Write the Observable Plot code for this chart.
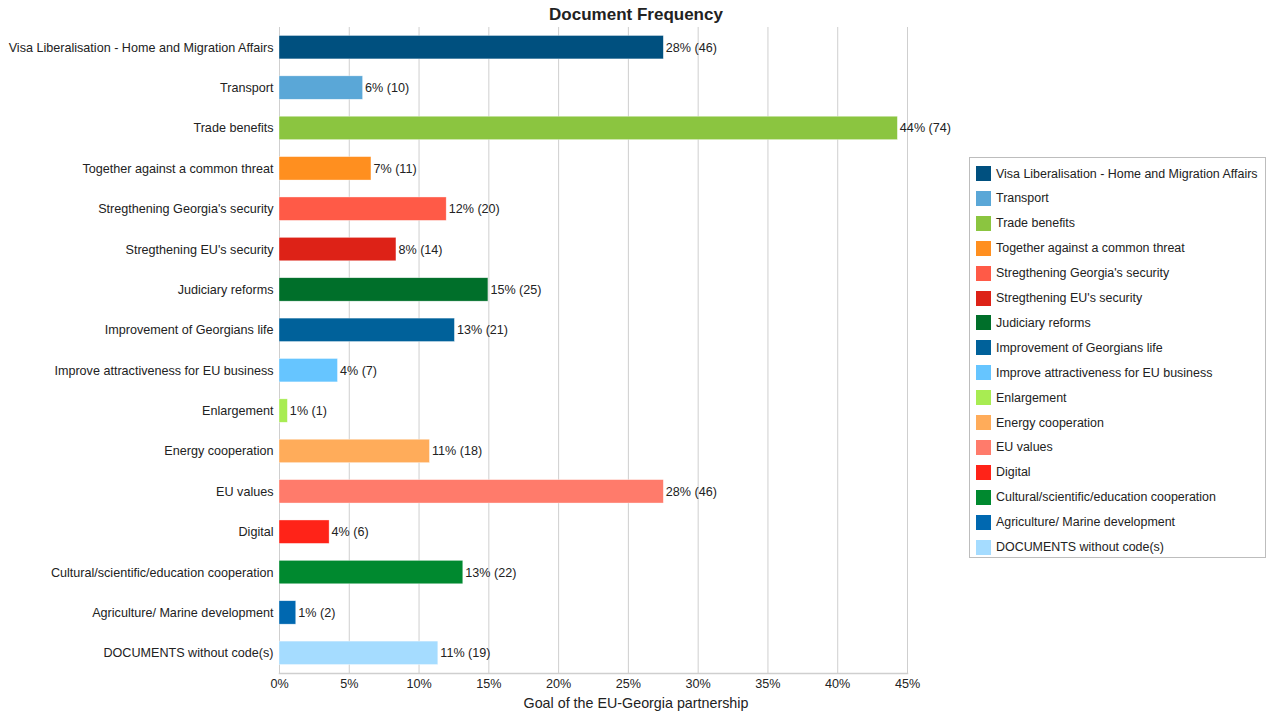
<!DOCTYPE html>
<html>
<head>
<meta charset="utf-8">
<script src="https://cdn.jsdelivr.net/npm/d3@7"></script>
<script src="https://cdn.jsdelivr.net/npm/@observablehq/plot@0.6"></script>
<style>
  html, body { margin: 0; padding: 0; background: #fff; }
  #wrap { position: relative; width: 1272px; height: 715px; font-family: "Liberation Sans", Arial, Helvetica, sans-serif; color: #222; }
  #title { position: absolute; left: 0; width: 1272px; top: 5px; text-align: center; font-weight: bold; font-size: 17px; }
  #xlabel { position: absolute; left: 0; width: 1272px; top: 695px; text-align: center; font-size: 14.3px; }
  #legend { position: absolute; left: 969px; top: 157px; width: 297px; height: 401px; box-sizing: border-box; border: 1px solid #bdbdbd; font-size: 12.45px; }
  .li { position: absolute; left: 6px; height: 15px; display: flex; align-items: center; white-space: nowrap; }
  .sw { width: 15px; height: 15px; margin-right: 5px; flex: none; }
  #plot { position: absolute; left: 0; top: 0; }
</style>
</head>
<body>
<div id="wrap">
  <div id="plot"></div>
  <div id="title">Document Frequency</div>
  <div id="xlabel">Goal of the EU-Georgia partnership</div>
  <div id="legend"></div>
</div>
<script>
const categories = [
  "Visa Liberalisation - Home and Migration Affairs",
  "Transport",
  "Trade benefits",
  "Together against a common threat",
  "Stregthening Georgia's security",
  "Stregthening EU's security",
  "Judiciary reforms",
  "Improvement of Georgians life",
  "Improve attractiveness for EU business",
  "Enlargement",
  "Energy cooperation",
  "EU values",
  "Digital",
  "Cultural/scientific/education cooperation",
  "Agriculture/ Marine development",
  "DOCUMENTS without code(s)"
];
const counts = [46, 10, 74, 11, 20, 14, 25, 21, 7, 1, 18, 46, 6, 22, 2, 19];
const shares = [0.2754, 0.0599, 0.4431, 0.0659, 0.1198, 0.0838, 0.1497, 0.1257, 0.0419, 0.0060, 0.1078, 0.2754, 0.0359, 0.1317, 0.0120, 0.1138];
const pctLabels = ["28%", "6%", "44%", "7%", "12%", "8%", "15%", "13%", "4%", "1%", "11%", "28%", "4%", "13%", "1%", "11%"];
const colors = [
  "#00507f", "#5aa7d7", "#8bc540", "#ff8f1f", "#ff5a47", "#dd2217", "#006f2a", "#00619a",
  "#66c5ff", "#a8ec52", "#ffac5a", "#ff7b6b", "#ff2318", "#00892f", "#0068b0", "#a5dcff"
];
const xTicks = [0, 0.05, 0.10, 0.15, 0.20, 0.25, 0.30, 0.35, 0.40, 0.45];

const data = categories.map((name, i) => ({
  name, share: shares[i], label: `${pctLabels[i]} (${counts[i]})`
}));

const chart = Plot.plot({
  width: 1272,
  height: 715,
  marginLeft: 279,
  marginRight: 365,
  marginTop: 27,
  marginBottom: 42,
  style: { fontFamily: '"Liberation Sans", Arial, Helvetica, sans-serif', fontSize: "12.6px", color: "#222", background: "transparent" },
  x: { domain: [0, 0.45], label: null },
  y: { domain: categories, label: null, paddingInner: 0.42, paddingOuter: 0.21, round: false },
  color: { domain: categories, range: colors },
  marks: [
    Plot.gridX(xTicks, { stroke: "#cfcfcf", strokeOpacity: 1, strokeWidth: 1 }),
    Plot.frame({ anchor: "bottom", stroke: "#cfcfcf", strokeWidth: 1.5 }),
    Plot.barX(data, { x: "share", y: "name", fill: "name", stroke: "#ffffff", strokeWidth: 0.6, strokeOpacity: 0.6 }),
    Plot.text(data, { x: "share", y: "name", text: "label", textAnchor: "start", dx: 2, fill: "#222", fontSize: 12.6 }),
    Plot.axisX(xTicks, { tickSize: 0, tickPadding: 6, tickFormat: d3.format(".0%"), fontSize: 12.6, label: null }),
    Plot.axisY({ tickSize: 0, tickPadding: 6, fontSize: 12.6, label: null })
  ]
});
document.getElementById("plot").appendChild(chart);

const legend = document.getElementById("legend");
categories.forEach((name, i) => {
  const row = document.createElement("div");
  row.className = "li";
  row.style.top = (8 + i * 24.9) + "px";
  const sw = document.createElement("div");
  sw.className = "sw";
  sw.style.background = colors[i];
  const t = document.createElement("span");
  t.textContent = name;
  row.appendChild(sw);
  row.appendChild(t);
  legend.appendChild(row);
});
</script>
</body>
</html>
